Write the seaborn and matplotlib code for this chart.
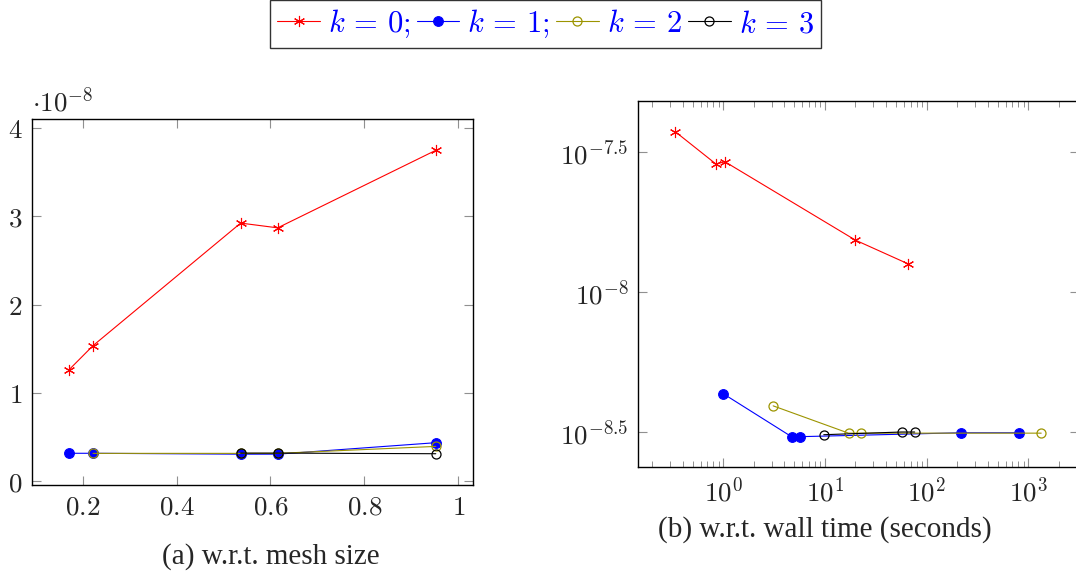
import numpy as np
import pandas as pd
import matplotlib
matplotlib.use("Agg")
import matplotlib.pyplot as plt
import matplotlib.ticker as mticker
import seaborn as sns

# ---------- Data ----------
# k = 0
mesh_k0 = [0.171, 0.222, 0.5365, 0.6153, 0.952]
err_k0 = [1.262e-8, 1.535e-8, 2.925e-8, 2.871e-8, 3.75e-8]
time_k0 = [66.3, 20.0, 1.04, 0.848, 0.336]

# k = 1
mesh_k1 = [0.171, 0.222, 0.5365, 0.6153, 0.952]
err_k1 = [3.15e-9, 3.15e-9, 3.05e-9, 3.05e-9, 4.35e-9]
time_k1 = [816.0, 216.0, 5.64, 4.70, 0.993]

# k = 2
mesh_k2 = [0.222, 0.5365, 0.6153, 0.952]
err_k2 = [3.14e-9, 3.14e-9, 3.14e-9, 3.93e-9]
time_k2 = [1343.0, 22.9, 17.1, 3.10]

# k = 3
mesh_k3 = [0.5365, 0.6153, 0.952]
err_k3 = [3.17e-9, 3.17e-9, 3.10e-9]
time_k3 = [76.4, 56.9, 9.75]

labels = [r"$k\,=\,0;$", r"$k\,=\,1;$", r"$k\,=\,2$", r"$k\,=\,3$"]

mesh_ticks = [0.2, 0.4, 0.6, 0.8, 1.0]
mesh_tick_labels = ["$0.2$", "$0.4$", "$0.6$", "$0.8$", "$1$"]
err_ticks = [0, 1e-8, 2e-8, 3e-8, 4e-8]
err_tick_labels = ["$0$", "$1$", "$2$", "$3$", "$4$"]
log_err_ticks = [10 ** -7.5, 10 ** -8.0, 10 ** -8.5]
log_err_tick_labels = [r"$10^{-7.5}$", r"$10^{-8}$", r"$10^{-8.5}$"]
time_ticks = [1, 10, 100, 1000]
time_tick_labels = [r"$10^{0}$", r"$10^{1}$", r"$10^{2}$", r"$10^{3}$"]

# ---------- Styling ----------
sns.set_style("white")
plt.rcParams["mathtext.fontset"] = "cm"
plt.rcParams["font.family"] = ["DejaVu Sans"]

RED = "#ff0000"
BLUE = "#0000ff"
OLIVE = "#9c9400"
BLACK = "#000000"
TICK_FS = 19.5
LW = 0.8

series = [
    dict(mesh=mesh_k0, err=err_k0, time=time_k0, color=RED, marker=(6, 2, 0),
         ms=8, mfc=RED, mew=0.8),
    dict(mesh=mesh_k1, err=err_k1, time=time_k1, color=BLUE, marker="o",
         ms=7, mfc=BLUE, mew=0.8),
    dict(mesh=mesh_k2, err=err_k2, time=time_k2, color=OLIVE, marker="o",
         ms=6.5, mfc="none", mew=0.9),
    dict(mesh=mesh_k3, err=err_k3, time=time_k3, color=BLACK, marker="o",
         ms=6.5, mfc="none", mew=0.9),
]

fig = plt.figure(figsize=(10.76, 5.74), dpi=100)
ax1 = fig.add_axes([0.0300, 0.155, 0.4099, 0.6372])
ax2 = fig.add_axes([0.5932, 0.1859, 0.4096, 0.6381])
ax2.set_xscale("log")
ax2.set_yscale("log")

for s, lab in zip(series, labels):
    kw = dict(color=s["color"], marker=s["marker"], markersize=s["ms"],
              markerfacecolor=s["mfc"], markeredgecolor=s["color"],
              markeredgewidth=s["mew"], linewidth=LW)
    sns.lineplot(x=s["mesh"], y=s["err"], ax=ax1, label=lab, **kw)
    sns.lineplot(x=s["time"], y=s["err"], ax=ax2, **kw)

handles, _ = ax1.get_legend_handles_labels()
ax1.get_legend().remove()
if ax2.get_legend() is not None:
    ax2.get_legend().remove()

# ---------- Axes (a) ----------
ax1.set_xlim(0.0927, 1.032)
ax1.set_ylim(-0.045e-8, 4.102e-8)
ax1.set_xticks(mesh_ticks)
ax1.set_xticklabels(mesh_tick_labels)
ax1.set_yticks(err_ticks)
ax1.set_yticklabels(err_tick_labels)
ax1.text(0.0, 1.021, r"$\cdot 10^{-8}$", transform=ax1.transAxes,
         ha="left", va="baseline", fontsize=TICK_FS)

# ---------- Axes (b) ----------
ax2.set_xlim(0.146, 10 ** 3.5)
ax2.set_ylim(10 ** -8.625, 10 ** -7.317)
ax2.set_xticks(time_ticks)
ax2.set_xticklabels(time_tick_labels)
ax2.xaxis.set_minor_locator(mticker.LogLocator(base=10, subs=np.arange(2, 10)))
ax2.xaxis.set_minor_formatter(mticker.NullFormatter())
ax2.set_yticks(log_err_ticks)
ax2.set_yticklabels(log_err_tick_labels)
ax2.yaxis.set_minor_locator(mticker.NullLocator())

for ax in (ax1, ax2):
    for sp in ax.spines.values():
        sp.set_visible(True)
        sp.set_color("black")
        sp.set_linewidth(1.0)
    ax.set_xlabel("")
    ax.set_ylabel("")
    ax.tick_params(which="major", direction="in", length=6.5, width=0.8,
                   color="#909090", labelsize=TICK_FS, top=True, right=True,
                   bottom=True, left=True, pad=7)
    ax.tick_params(which="minor", direction="in", length=4.3, width=0.7,
                   color="#909090", top=True, bottom=True)

# ---------- Legend & captions ----------
leg = fig.legend(handles, labels, loc="center", bbox_to_anchor=(0.507, 0.958),
                 ncol=4, fontsize=22, frameon=True, fancybox=False,
                 edgecolor="black", handlelength=1.4, handletextpad=0.26,
                 columnspacing=0.2, borderpad=0.25, borderaxespad=0)
leg.get_frame().set_linewidth(1.0)
for t in leg.get_texts():
    t.set_color(BLUE)

fig.text(0.2519, 0.0296, "(a) w.r.t. mesh size", ha="center", va="center",
         fontsize=21, family=["Liberation Serif"])
fig.text(0.7667, 0.0767, "(b) w.r.t. wall time (seconds)", ha="center",
         va="center", fontsize=21, family=["Liberation Serif"])

fig.savefig("out.png", dpi=100)
